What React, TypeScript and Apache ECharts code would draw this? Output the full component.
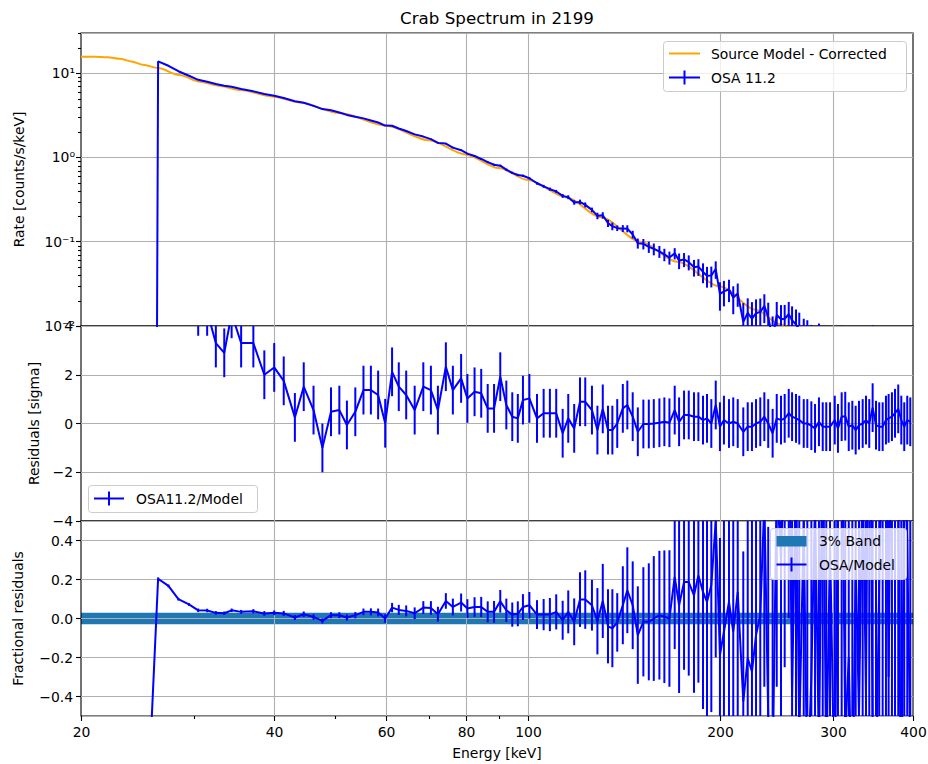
import React, { useEffect, useRef } from "react";
import * as echarts from "echarts";

// ---------------- data ----------------
const ENERGY = [
  25.4, 26.4, 27.4, 28.4, 29.5, 30.5, 31.5, 32.5, 33.5, 34.4,
  35.6, 37.2, 38.7, 40.1, 41.5, 43.2, 44.6, 46.2, 47.7, 49.2,
  50.7, 52.1, 53.7, 55.3, 56.8, 58.3, 59.8, 61.3, 62.8, 64.5,
  66.5, 68.6, 70.5, 72.3, 74.4, 76.3, 78.6, 80.4, 82.5, 84.5,
  86.5, 88.5, 90.5, 92.5, 94.5, 96.4, 98.2, 100.5, 103.3, 105.8,
  108.2, 110.7, 113.3, 115.6, 118.1, 120.6, 122.9, 125.9, 128.4, 130.9,
  133.4, 135.5, 137.9, 140.7, 143.0, 145.8, 148.5, 151.5, 154.5, 157.3,
  160.5, 163.4, 166.4, 169.6, 172.3, 175.4, 178.4, 181.8, 184.7, 187.8,
  190.5, 193.5, 196.6, 199.6, 202.5, 206.2, 209.4, 212.8, 217.1, 220.6,
  224.0, 227.3, 230.8, 234.2, 237.5, 241.3, 244.9, 248.7, 252.0, 255.7,
  258.8, 262.5, 265.6, 269.9, 273.4, 277.4, 281.1, 285.1, 289.0, 292.7,
  296.7, 301.8, 305.3, 309.4, 313.4, 317.4, 321.5, 325.4, 329.3, 333.7,
  337.7, 341.7, 345.9, 350.1, 354.2, 358.6, 362.9, 366.4, 370.8, 374.9,
  379.3, 383.5, 387.6, 391.8, 396.1,
];

const RATE = [
  0, 13.8, 12.25, 10.55, 9.33, 8.34, 7.9, 7.44, 7.09, 6.89,
  6.49, 6.09, 5.67, 5.41, 5.08, 4.65, 4.46, 4.09, 3.75, 3.63,
  3.42, 3.2, 3.04, 2.91, 2.75, 2.6, 2.39, 2.38, 2.21, 2.06,
  1.88, 1.77, 1.65, 1.49, 1.46, 1.31, 1.22, 1.11, 1.04, 0.96,
  0.88, 0.82, 0.8, 0.717, 0.657, 0.62, 0.606, 0.567, 0.494, 0.455,
  0.421, 0.395, 0.35, 0.338, 0.293, 0.297, 0.274, 0.239, 0.203, 0.206,
  0.166, 0.153, 0.145, 0.144, 0.143, 0.122, 0.096, 0.0944, 0.087, 0.0821,
  0.0767, 0.0706, 0.0649, 0.0728, 0.0599, 0.0617, 0.0573, 0.0497, 0.0507, 0.0438,
  0.0394, 0.0397, 0.0474, 0.0241, 0.0257, 0.0273, 0.0217, 0.0244, 0.0112, 0.0143,
  0.0122, 0.0142, 0.0147, 0.0173, 0.0127, 0.0071, 0.0135, 0.012, 0.0122, 0.0138,
  0.0117, 0.0104, 0.0092, 0.0072, 0.0068, 0.0055, 0.0041, 0.0062, 0.0042, 0.0039,
  0.0036, 0.0056, 0.0026, 0.0061, 0.006, 0.0025, 0.0028, 0.0011, 0.0025, 0.0028,
  0.0036, 0.0025, 0.0068, 0.0017, 0.0013, 0.0012, 0.0028, 0.0031, 0.0034, 0.0041,
  0.0053, 0.0023, 0.00064, 0.0022, 0.0017,
];

const RATE_ERR = [
  0, 0.04, 0.037, 0.034, 0.035, 0.036, 0.034, 0.033, 0.031, 0.03,
  0.031, 0.032, 0.033, 0.032, 0.032, 0.03, 0.031, 0.028, 0.025, 0.027,
  0.025, 0.025, 0.024, 0.024, 0.024, 0.025, 0.026, 0.027, 0.028, 0.028,
  0.027, 0.028, 0.027, 0.028, 0.027, 0.027, 0.026, 0.025, 0.025, 0.024,
  0.023, 0.022, 0.021, 0.021, 0.02, 0.019, 0.019, 0.018, 0.018, 0.018,
  0.018, 0.017, 0.018, 0.018, 0.018, 0.019, 0.019, 0.015, 0.018, 0.018,
  0.0164, 0.0161, 0.0111, 0.0135, 0.0138, 0.0128, 0.0131, 0.0134, 0.0133, 0.0131,
  0.0124, 0.0119, 0.0114, 0.0111, 0.0126, 0.0117, 0.0116, 0.0111, 0.0114, 0.0116,
  0.0109, 0.011, 0.0111, 0.0089, 0.0086, 0.0081, 0.0079, 0.0075, 0.0075, 0.007,
  0.007, 0.0065, 0.0065, 0.0065, 0.0062, 0.0059, 0.0058, 0.0057, 0.0056, 0.0055,
  0.0054, 0.0053, 0.0052, 0.005, 0.0049, 0.0048, 0.0047, 0.0045, 0.0044, 0.0043,
  0.0042, 0.0042, 0.0041, 0.004, 0.0039, 0.0039, 0.0037, 0.0036, 0.0037, 0.0036,
  0.0034, 0.0034, 0.0034, 0.0033, 0.0033, 0.0032, 0.0032, 0.0031, 0.0031, 0.003,
  0.0031, 0.003, 0.0029, 0.003, 0.0029,
];

const SIGMA_RES: (number | null)[] = [
  null, 28, 23, 14, 9, 4.6, 4.6, 3.3, 2.9, 4.5,
  3.3, 3.3, 2.0, 2.3, 1.75, 0.25, 1.51, 0.55, -1.0, 0.48,
  0.55, -0.06, 0.48, 1.37, 1.37, 1.17, 0.01, 2.12, 1.51, 1.17,
  0.55, 1.51, 1.37, 0.55, 2.33, 1.37, 1.85, 1.03, 1.3, 1.24,
  0.62, 0.62, 1.92, 0.76, 0.28, 0.21, 0.96, 1.03, 0.21, 0.42,
  0.42, 0.42, -0.4, 0.21, -0.2, 0.89, 0.89, 0.55, -0.27, 0.6,
  -0.27, -0.27, 0.0, 0.62, 0.76, 0.28, -0.34, -0.02, -0.02, 0.0,
  0.03, 0.07, 0.03, 0.55, 0.07, 0.35, 0.35, 0.28, 0.28, 0.14,
  0.21, 0.0, 0.76, -0.13, 0.14, 0.0, 0.07, 0.0, -0.34, -0.13,
  -0.13, 0.0, 0.07, 0.28, 0.0, -0.4, 0.21, 0.14, 0.21, 0.42,
  0.28, 0.21, 0.14, 0.0, 0.0, -0.09, -0.2, 0.07, -0.13, -0.13,
  -0.13, 0.14, -0.2, 0.28, 0.3, -0.13, -0.07, -0.27, -0.07, 0.0,
  0.14, 0.0, 0.65, -0.07, -0.13, -0.13, 0.14, 0.21, 0.28, 0.42,
  0.6, 0.14, -0.13, 0.14, 0.07,
];
const SIGMA_BAR = 1; // residual error bars are +-1 sigma

const FRAC_RES = [
  -1, 0.204, 0.167, 0.099, 0.072, 0.042, 0.041, 0.029, 0.027, 0.042,
  0.034, 0.037, 0.026, 0.029, 0.026, 0.005, 0.022, 0.008, -0.012, 0.017,
  0.017, 0.005, 0.017, 0.034, 0.034, 0.031, 0.0, 0.056, 0.044, 0.039,
  0.027, 0.056, 0.054, 0.022, 0.09, 0.059, 0.082, 0.051, 0.059, 0.059,
  0.034, 0.034, 0.088, 0.042, 0.02, 0.024, 0.059, 0.068, 0.02, 0.02,
  0.02, 0.034, -0.009, 0.034, -0.017, 0.097, 0.097, 0.068, -0.014, 0.09,
  -0.04, -0.05, -0.02, 0.068, 0.145, 0.068, -0.085, -0.017, -0.017, 0.0,
  0.017, 0.009, 0.0, 0.213, 0.068, 0.187, 0.187, 0.119, 0.221, 0.136,
  0.085, 0.17, 0.5, -0.187, -0.068, 0.085, -0.068, 0.136, -0.426, -0.204,
  -0.272, -0.085, 0.017, 0.6, -0.5, -0.8, 0.7, 0.3, 0.9, 1.2,
  -0.4, 0.8, -0.6, 0.5, -0.9, -0.3, 0.6, -0.7, 1.1, -0.8,
  0.4, -1.0, 0.9, 1.2, -0.6, -0.2, -1.1, 0.3, -0.5, 0.8,
  -0.4, 1.9, -0.6, -0.9, 0.2, 1.0, 1.4, -0.3, 1.6, 2.3,
  0.7, -1.2, 0.9, 0.4, -0.7,
];

const FRAC_ERR = [
  0, 0.007, 0.007, 0.007, 0.007, 0.009, 0.009, 0.009, 0.009, 0.009,
  0.01, 0.011, 0.012, 0.012, 0.013, 0.013, 0.014, 0.014, 0.013, 0.015,
  0.015, 0.016, 0.016, 0.017, 0.018, 0.02, 0.022, 0.024, 0.026, 0.028,
  0.03, 0.033, 0.035, 0.038, 0.04, 0.043, 0.046, 0.048, 0.05, 0.052,
  0.054, 0.056, 0.058, 0.06, 0.062, 0.064, 0.066, 0.068, 0.074, 0.08,
  0.085, 0.09, 0.1, 0.11, 0.12, 0.14, 0.15, 0.13, 0.17, 0.19,
  0.19, 0.2, 0.15, 0.2, 0.22, 0.225, 0.25, 0.28, 0.3, 0.32,
  0.33, 0.34, 0.35, 0.37, 0.45, 0.45, 0.48, 0.5, 0.55, 0.6,
  0.6, 0.65, 0.7, 0.6, 0.62, 0.64, 0.68, 0.7, 0.77, 0.78,
  0.84, 0.84, 0.9, 0.95, 0.97, 1.0, 1.05, 1.1, 1.15, 1.2,
  1.25, 1.3, 1.35, 1.4, 1.45, 1.5, 1.55, 1.6, 1.65, 1.7,
  1.8, 1.9, 1.95, 2.05, 2.1, 2.2, 2.25, 2.35, 2.45, 2.55,
  2.65, 2.75, 2.85, 3.0, 3.1, 3.2, 3.35, 3.45, 3.6, 3.75,
  3.85, 4.0, 4.15, 4.3, 4.45,
];

// orange source model curve
const MODEL_E = [20, 21, 22, 23, 24, 25, 26.4, 28.5, 30.7, 33, 35.5, 40, 44, 50.7, 60, 70, 80, 90, 100, 115, 130, 150, 171, 200, 227, 248, 260];
const MODEL_RATE = [15.7, 15.7, 15.5, 14.8, 13.8, 12.6, 11.5, 9.5, 7.9, 7.05, 6.3, 5.27, 4.48, 3.36, 2.38, 1.6, 1.08, 0.75, 0.54, 0.335, 0.195, 0.1, 0.058, 0.0294, 0.0156, 0.0105, 0.0085];

const BAND_HALF = 0.03; // 3% band

// axis ticks
const X_MIN = 20;
const X_MAX = 400;
const X_MAJOR = [20, 40, 60, 80, 100, 200, 300, 400];
const X_MINOR = [30, 50, 70, 90];
const Y_TOP_MIN = 0.01;
const Y_TOP_MAX = 30;
const Y_TOP_MINOR = [0.02, 0.03, 0.04, 0.05, 0.06, 0.07, 0.08, 0.09, 0.2, 0.3, 0.4, 0.5, 0.6, 0.7, 0.8, 0.9, 2, 3, 4, 5, 6, 7, 8, 9, 20, 30];

// ---------------- styling ----------------
const FONT = '"DejaVu Sans", Verdana, sans-serif';
const FS = 13.9;
const BLUE = "#0000ff";
const ORANGE = "#ffa500";
const GRID_C = "#b0b0b0";
const C0 = "#1f77b4";

const SUP: Record<string, string> = { "-": "\u207b", "0": "\u2070", "1": "\u00b9", "2": "\u00b2", "3": "\u00b3" };
const sup = (n: number) => String(n).split("").map((c) => SUP[c] || c).join("");
const minus = (s: string) => s.replace("-", "\u2212");

const GRIDS = [
  { left: 81, width: 832, top: 33, height: 293 },
  { left: 81, width: 832, top: 326, height: 195 },
  { left: 81, width: 832, top: 521, height: 195 },
];

function errSeries(gi: number, data: number[][], isLog: boolean, z: number) {
  return {
    type: "custom",
    xAxisIndex: gi,
    yAxisIndex: gi,
    z,
    silent: true,
    data,
    encode: { x: 0, y: 1 },
    renderItem: (params: any, api: any) => {
      const cs = params.coordSys;
      const x = api.value(0);
      let lo = api.value(2);
      let hi = api.value(3);
      if (isLog) {
        lo = lo > 0 ? lo : 1e-30;
        hi = hi > 0 ? hi : 1e-30;
      }
      const p1 = api.coord([x, lo]);
      const p2 = api.coord([x, hi]);
      const top = cs.y;
      const bot = cs.y + cs.height;
      const y1 = Math.min(Math.max(p1[1], top), bot);
      const y2 = Math.min(Math.max(p2[1], top), bot);
      if (Math.abs(y1 - y2) < 0.01) return null;
      return {
        type: "line",
        shape: { x1: p1[0], y1, x2: p1[0], y2 },
        style: { stroke: BLUE, lineWidth: 2 },
      };
    },
  };
}

function xTickSeries(gi: number, yRef: number, withTicks: boolean) {
  return {
    type: "custom",
    xAxisIndex: gi,
    yAxisIndex: gi,
    z: 2,
    silent: true,
    data: [...X_MAJOR.map((v) => [v, yRef, 1]), ...X_MINOR.map((v) => [v, yRef, 0])],
    encode: { x: 0, y: 1 },
    renderItem: (params: any, api: any) => {
      const cs = params.coordSys;
      const v = api.value(0);
      const major = api.value(2) === 1;
      const px = Math.round(api.coord([v, yRef])[0]) + 0.5;
      const top = cs.y;
      const bot = cs.y + cs.height;
      const children: any[] = [];
      if (major && v > X_MIN && v < X_MAX) {
        children.push({ type: "line", shape: { x1: px, y1: top, x2: px, y2: bot }, style: { stroke: GRID_C, lineWidth: 1.1 } });
      }
      if (withTicks) {
        children.push({ type: "line", shape: { x1: px, y1: bot, x2: px, y2: bot + (major ? 5 : 3) }, style: { stroke: "#000", lineWidth: 1.1 } });
        if (major) {
          children.push({
            type: "text",
            x: px,
            y: bot + 9,
            style: { text: String(v), fill: "#000", font: `${FS}px ${FONT}`, align: "center", verticalAlign: "top" },
          });
        }
      }
      return { type: "group", children };
    },
  };
}

function yMinorSeries() {
  return {
    type: "custom",
    xAxisIndex: 0,
    yAxisIndex: 0,
    z: 2,
    silent: true,
    data: Y_TOP_MINOR.map((v) => [X_MIN, v]),
    encode: { x: 0, y: 1 },
    renderItem: (params: any, api: any) => {
      const cs = params.coordSys;
      const py = Math.round(api.coord([X_MIN, api.value(1)])[1]) + 0.5;
      return { type: "line", shape: { x1: cs.x, y1: py, x2: cs.x - 3, y2: py }, style: { stroke: "#000", lineWidth: 1.1 } };
    },
  };
}

function bandSeries() {
  return {
    type: "custom",
    xAxisIndex: 2,
    yAxisIndex: 2,
    z: -1,
    silent: true,
    data: [[X_MIN, 0]],
    encode: { x: 0, y: 1 },
    renderItem: (params: any, api: any) => {
      const a = api.coord([X_MIN, BAND_HALF]);
      const b = api.coord([X_MAX, -BAND_HALF]);
      return { type: "rect", shape: { x: a[0], y: a[1], width: b[0] - a[0], height: b[1] - a[1] }, style: { fill: C0 } };
    },
  };
}

const yBase = {
  axisLine: { show: false },
  axisTick: { show: true, length: 5, lineStyle: { color: "#000", width: 1.1 } },
  splitLine: { show: true, lineStyle: { color: GRID_C, width: 1.1 } },
  nameLocation: "middle",
  nameTextStyle: { fontSize: FS, color: "#000", fontFamily: FONT },
};

function legendBox(x: number, y: number, w: number, h: number) {
  return {
    type: "rect",
    z: 100,
    shape: { x, y, width: w, height: h, r: 3 },
    style: { fill: "rgba(255,255,255,0.8)", stroke: "#cccccc", lineWidth: 1 },
  };
}
function legendText(x: number, y: number, text: string) {
  return { type: "text", z: 101, x, y, style: { text, fill: "#000", font: `${FS}px ${FONT}`, align: "left", verticalAlign: "middle" } };
}
function legendErr(x1: number, x2: number, y: number) {
  const xm = (x1 + x2) / 2;
  return [
    { type: "line", z: 101, shape: { x1, y1: y, x2, y2: y }, style: { stroke: BLUE, lineWidth: 2 } },
    { type: "line", z: 101, shape: { x1: xm, y1: y - 7, x2: xm, y2: y + 7 }, style: { stroke: BLUE, lineWidth: 2 } },
  ];
}

export default function App() {
  const ref = useRef<HTMLDivElement>(null);

  useEffect(() => {
    if (!ref.current) return;
    const chart = echarts.init(ref.current, undefined, { renderer: "svg" });

    const rateLine = ENERGY.map((e, i) => [e, RATE[i] > 0 ? RATE[i] : 1e-30]);
    const rateErr = ENERGY.map((e, i) => [e, RATE[i] > 0 ? RATE[i] : 1e-30, RATE[i] - RATE_ERR[i], RATE[i] + RATE_ERR[i]]).filter((_, i) => RATE_ERR[i] > 0);
    const sigLine = ENERGY.map((e, i) => [e, SIGMA_RES[i]]).filter((d) => d[1] !== null);
    const sigErr = ENERGY.map((e, i) => [e, SIGMA_RES[i] as number, (SIGMA_RES[i] as number) - SIGMA_BAR, (SIGMA_RES[i] as number) + SIGMA_BAR]).filter((_, i) => SIGMA_RES[i] !== null);
    const fracLine = ENERGY.map((e, i) => [e, FRAC_RES[i]]);
    const fracErr = ENERGY.map((e, i) => [e, FRAC_RES[i], FRAC_RES[i] - FRAC_ERR[i], FRAC_RES[i] + FRAC_ERR[i]]).filter((_, i) => FRAC_ERR[i] > 0);

    const option: any = {
      animation: false,
      backgroundColor: "#ffffff",
      textStyle: { fontFamily: FONT },
      grid: GRIDS.map((g) => ({ ...g, show: true, borderColor: "#000", borderWidth: 1.1, backgroundColor: "transparent" })),
      xAxis: [0, 1, 2].map((i) => ({
        type: "log",
        logBase: 10,
        min: X_MIN,
        max: X_MAX,
        gridIndex: i,
        axisLine: { show: false },
        axisTick: { show: false },
        axisLabel: { show: false },
        splitLine: { show: false },
        ...(i === 2
          ? {
              name: "Energy [keV]",
              nameLocation: "middle",
              nameGap: 30,
              nameTextStyle: { fontSize: FS, color: "#000", fontFamily: FONT },
            }
          : {}),
      })),
      yAxis: [
        {
          ...yBase,
          type: "log",
          logBase: 10,
          min: Y_TOP_MIN,
          max: Y_TOP_MAX,
          gridIndex: 0,
          name: "Rate [counts/s/keV]",
          nameGap: 55,
          axisLabel: {
            fontSize: FS,
            color: "#000",
            fontFamily: FONT,
            margin: 6,
            showMinLabel: true,
            showMaxLabel: false,
            formatter: (v: number) => {
              const l = Math.log10(v);
              const n = Math.round(l);
              if (Math.abs(l - n) > 0.01) return "";
              return "10" + sup(n);
            },
          },
        },
        {
          ...yBase,
          type: "value",
          min: -4,
          max: 4,
          interval: 2,
          gridIndex: 1,
          name: "Residuals [sigma]",
          nameGap: 40,
          axisLabel: { fontSize: FS, color: "#000", fontFamily: FONT, margin: 8, showMinLabel: true, showMaxLabel: true, formatter: (v: number) => minus(String(v)) },
        },
        {
          ...yBase,
          type: "value",
          min: -0.5,
          max: 0.5,
          splitNumber: 5,
          gridIndex: 2,
          name: "Fractional residuals",
          nameGap: 56,
          axisLabel: { fontSize: FS, color: "#000", fontFamily: FONT, margin: 8, showMinLabel: false, showMaxLabel: false, formatter: (v: number) => minus(v.toFixed(1)) },
        },
      ],
      series: [
        bandSeries(),
        xTickSeries(0, 1, false),
        xTickSeries(1, 0, false),
        xTickSeries(2, 0, true),
        yMinorSeries(),
        {
          type: "line",
          name: "Source Model - Corrected",
          xAxisIndex: 0,
          yAxisIndex: 0,
          z: 3,
          data: MODEL_E.map((e, i) => [e, MODEL_RATE[i]]),
          smooth: 0.3,
          smoothMonotone: "x",
          showSymbol: false,
          symbol: "none",
          lineStyle: { color: ORANGE, width: 2 },
          silent: true,
        },
        {
          type: "line",
          name: "OSA 11.2",
          xAxisIndex: 0,
          yAxisIndex: 0,
          z: 4,
          data: rateLine,
          showSymbol: false,
          symbol: "none",
          lineStyle: { color: BLUE, width: 2 },
          silent: true,
        },
        errSeries(0, rateErr, true, 4),
        {
          type: "line",
          name: "OSA11.2/Model",
          xAxisIndex: 1,
          yAxisIndex: 1,
          z: 4,
          data: sigLine,
          showSymbol: false,
          symbol: "none",
          lineStyle: { color: BLUE, width: 2 },
          silent: true,
        },
        errSeries(1, sigErr, false, 4),
        {
          type: "line",
          name: "OSA/Model",
          xAxisIndex: 2,
          yAxisIndex: 2,
          z: 4,
          data: fracLine,
          showSymbol: false,
          symbol: "none",
          lineStyle: { color: BLUE, width: 2 },
          silent: true,
        },
        errSeries(2, fracErr, false, 4),
      ],
      graphic: [
        {
          type: "text",
          z: 100,
          x: 497,
          y: 18,
          style: { text: "Crab Spectrum in 2199", fill: "#000", font: `16.7px ${FONT}`, align: "center", verticalAlign: "middle" },
        },
        legendBox(663.5, 41.5, 243, 50),
        { type: "line", z: 101, shape: { x1: 669, y1: 53.5, x2: 700, y2: 53.5 }, style: { stroke: ORANGE, lineWidth: 2 } },
        legendText(711, 53.5, "Source Model - Corrected"),
        ...legendErr(669, 700, 77.5),
        legendText(711, 77.5, "OSA 11.2"),
        legendBox(88.5, 485.5, 169, 27),
        ...legendErr(94, 124, 498.5),
        legendText(136, 498.5, "OSA11.2/Model"),
        legendBox(770.5, 528.5, 136, 51),
        { type: "rect", z: 101, shape: { x: 776.5, y: 536, width: 30, height: 10.5 }, style: { fill: C0 } },
        legendText(819, 541, "3% Band"),
        ...legendErr(776.5, 806.5, 564.5),
        legendText(819, 564.5, "OSA/Model"),
      ],
    };

    chart.setOption(option);
    return () => chart.dispose();
  }, []);

  return (
    <div style={{ position: "absolute", left: 0, top: 0, width: 928, height: 764, background: "#fff" }}>
      <div ref={ref} style={{ width: 928, height: 764 }} />
    </div>
  );
}
